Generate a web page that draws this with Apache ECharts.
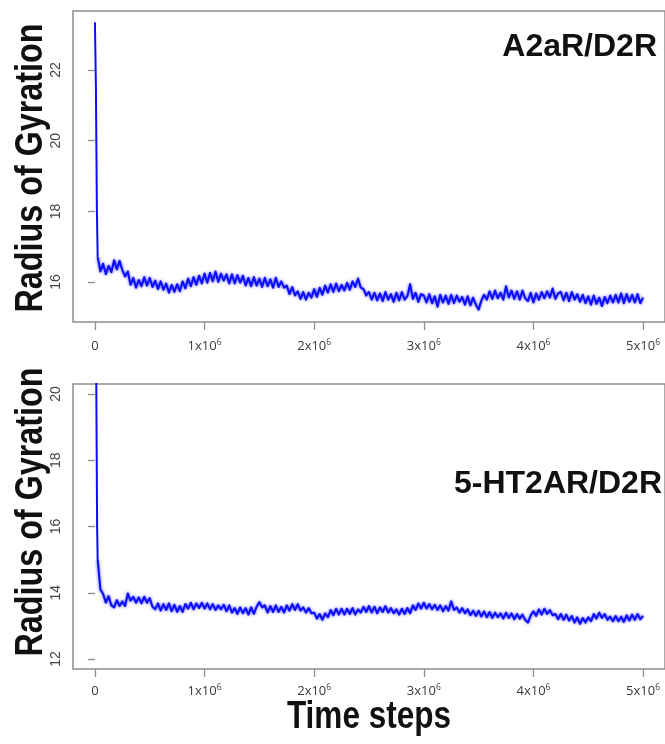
<!DOCTYPE html>
<html>
<head>
<meta charset="utf-8">
<script src="https://cdn.jsdelivr.net/npm/echarts@6/dist/echarts.min.js"></script>
<style>html,body{margin:0;padding:0;background:#fff;}#c{width:665px;height:744px;}</style>
</head>
<body>
<div id="c"></div>
<script>
// ---- data ----
const xTicks = [0, 1000000, 2000000, 3000000, 4000000, 5000000];
const yTicksTop = [16, 18, 20, 22];
const yTicksBottom = [12, 14, 16, 18, 20];
const panelTop = 'A2aR/D2R';
const panelBottom = '5-HT2AR/D2R';
const yTitle = 'Radius of Gyration';
const xTitle = 'Time steps';

// initial fast collapse
const topEarlySteps = [0, 9000, 18000];
const topEarlyRg = [23.35, 21.5, 18.0];
const botEarlySteps = [0, 12000, 20000];
const botEarlyRg = [24.0, 20.5, 16.0];

// regular samples every 25000 steps, from 25000 to 5000000
const sampleStep = 25000;
const topRg = [
 16.72,16.30,16.52,16.22,16.46,16.28,16.62,16.36,16.60,
 16.34,16.16,16.30,15.92,16.12,15.84,16.06,15.88,16.14,15.90,
 16.12,15.86,16.04,15.80,16.02,15.78,15.96,15.70,15.92,15.72,
 15.94,15.74,16.02,15.82,16.10,15.88,16.14,15.92,16.18,15.96,
 16.24,15.98,16.26,16.02,16.30,16.00,16.24,16.04,16.22,15.96,
 16.22,15.96,16.20,15.98,16.18,15.90,16.12,15.88,16.14,15.90,
 16.10,15.86,16.12,15.88,16.08,15.84,16.12,15.86,16.02,15.84,
 15.90,15.66,15.86,15.62,15.74,15.52,15.72,15.50,15.70,15.56,
 15.80,15.58,15.84,15.64,15.90,15.70,15.94,15.72,15.96,15.74,
 15.92,15.76,15.98,15.78,16.02,15.86,16.10,15.84,15.80,15.62,
 15.72,15.50,15.70,15.48,15.68,15.46,15.72,15.50,15.66,15.44,
 15.70,15.48,15.72,15.50,15.60,15.94,15.52,15.70,15.44,15.66,
 15.62,15.42,15.66,15.40,15.60,15.30,15.64,15.42,15.62,15.38,
 15.64,15.40,15.62,15.44,15.58,15.36,15.60,15.34,15.56,15.36,
 15.22,15.48,15.64,15.50,15.74,15.52,15.76,15.54,15.70,15.50,
 15.88,15.56,15.76,15.52,15.74,15.50,15.76,15.54,15.46,15.70,
 15.42,15.68,15.50,15.72,15.54,15.74,15.56,15.82,15.52,15.68,
 15.72,15.48,15.70,15.46,15.72,15.50,15.66,15.44,15.64,15.40,
 15.60,15.36,15.62,15.38,15.56,15.32,15.58,15.40,15.62,15.42,
 15.64,15.42,15.68,15.40,15.66,15.44,15.64,15.42,15.66,15.40,15.56
];
const bottomRg = [
 15.00,14.10,13.96,13.70,13.90,13.62,13.56,13.78,13.60,
 13.74,13.60,13.98,13.76,13.88,13.70,13.86,13.68,13.88,13.70,
 13.84,13.58,13.50,13.68,13.46,13.66,13.48,13.68,13.44,13.64,
 13.42,13.60,13.42,13.66,13.52,13.70,13.50,13.68,13.54,13.70,
 13.52,13.68,13.50,13.66,13.48,13.62,13.50,13.64,13.44,13.62,
 13.40,13.54,13.36,13.56,13.38,13.54,13.34,13.56,13.36,13.58,
 13.72,13.56,13.62,13.40,13.60,13.42,13.62,13.42,13.58,13.40,
 13.62,13.46,13.66,13.48,13.66,13.46,13.56,13.40,13.54,13.38,
 13.40,13.22,13.36,13.18,13.38,13.26,13.48,13.32,13.52,13.34,
 13.52,13.34,13.52,13.36,13.54,13.34,13.50,13.40,13.58,13.42,
 13.60,13.40,13.58,13.38,13.56,13.42,13.60,13.40,13.54,13.38,
 13.50,13.34,13.52,13.36,13.54,13.38,13.62,13.48,13.68,13.52,
 13.70,13.52,13.66,13.50,13.64,13.48,13.62,13.44,13.60,13.46,
 13.74,13.48,13.56,13.40,13.54,13.38,13.50,13.32,13.46,13.30,
 13.46,13.28,13.44,13.26,13.42,13.24,13.40,13.26,13.38,13.22,
 13.40,13.24,13.38,13.20,13.36,13.22,13.34,13.18,13.10,13.32,
 13.44,13.30,13.50,13.34,13.52,13.36,13.48,13.32,13.36,13.20,
 13.36,13.18,13.34,13.16,13.30,13.10,13.26,13.06,13.24,13.10,
 13.26,13.14,13.36,13.22,13.40,13.24,13.36,13.18,13.28,13.14,
 13.30,13.14,13.28,13.12,13.32,13.16,13.34,13.18,13.36,13.20,13.30
];

function earlyPart(earlySteps, earlyVals, vals) {
  const out = earlySteps.map((s, i) => [s, earlyVals[i]]);
  out.push([sampleStep, vals[0]]);
  return out;
}
function mainPart(vals) {
  return vals.map((v, i) => [(i + 1) * sampleStep, v]);
}

const boxColor = '#8e8e8e';
const lineColor = '#0c0cff';

function xAxisCfg(gridIndex, margin) {
  return {
    type: 'value', gridIndex: gridIndex, min: -200000, max: 5200000,
    axisLine: {show: false},
    splitLine: {show: false},
    axisTick: {show: true, customValues: xTicks, length: 8, inside: false,
      lineStyle: {color: boxColor, width: 1.3}},
    axisLabel: {show: true, customValues: xTicks, margin: margin,
      formatter: function (v) {
        if (v === 0) return '{n|0}';
        return '{n|' + Math.round(v / 1000000) + 'x10}{s|6}';
      },
      rich: {
        n: {fontFamily: 'Open Sans', fontSize: 13, color: '#3a3a3a', lineHeight: 16},
        s: {fontFamily: 'Open Sans', fontSize: 8.5, color: '#3a3a3a', lineHeight: 10, verticalAlign: 'top'}
      }
    }
  };
}
function yAxisCfg(gridIndex, min, max, ticks) {
  return {
    type: 'value', gridIndex: gridIndex, min: min, max: max,
    axisLine: {show: false},
    splitLine: {show: false},
    axisTick: {show: true, customValues: ticks, length: 7,
      lineStyle: {color: boxColor, width: 1.3}},
    axisLabel: {show: true, customValues: ticks, rotate: 90, margin: 10,
      fontFamily: 'Liberation Sans', fontSize: 14, color: '#444'}
  };
}

const titleFont = 'bold 38px "Liberation Sans", Arial, sans-serif';
const bandStyle = {color: lineColor, width: 2, join: 'round',
  shadowColor: 'rgba(20,20,255,0.8)', shadowBlur: 3};

const chart = echarts.init(document.getElementById('c'), null, {renderer: 'canvas'});
chart.setOption({
  animation: false,
  backgroundColor: '#fff',
  grid: [
    {left: 73, top: 11, width: 594, height: 311, show: true, borderColor: boxColor, borderWidth: 1.5, backgroundColor: 'transparent'},
    {left: 73, top: 384, width: 594, height: 285, show: true, borderColor: boxColor, borderWidth: 1.5, backgroundColor: 'transparent'}
  ],
  xAxis: [xAxisCfg(0, 16), xAxisCfg(1, 14)],
  yAxis: [yAxisCfg(0, 14.87, 23.67, yTicksTop), yAxisCfg(1, 11.70, 20.30, yTicksBottom)],
  series: [
    {type: 'line', xAxisIndex: 0, yAxisIndex: 0, data: earlyPart(topEarlySteps, topEarlyRg, topRg),
      showSymbol: false, symbol: 'none', clip: true, lineStyle: {color: lineColor, width: 2}},
    {type: 'line', xAxisIndex: 0, yAxisIndex: 0, data: mainPart(topRg),
      showSymbol: false, symbol: 'none', clip: true, lineStyle: bandStyle},
    {type: 'line', xAxisIndex: 1, yAxisIndex: 1, data: earlyPart(botEarlySteps, botEarlyRg, bottomRg),
      showSymbol: false, symbol: 'none', clip: true, lineStyle: {color: lineColor, width: 2}},
    {type: 'line', xAxisIndex: 1, yAxisIndex: 1, data: mainPart(bottomRg),
      showSymbol: false, symbol: 'none', clip: true, lineStyle: bandStyle}
  ],
  graphic: [
    {type: 'text', x: 657, y: 47, style: {text: panelTop, font: 'bold 32px "Liberation Sans", Arial, sans-serif',
      fill: '#111', align: 'right', verticalAlign: 'middle'}},
    {type: 'text', x: 662, y: 484, style: {text: panelBottom, font: 'bold 32px "Liberation Sans", Arial, sans-serif',
      fill: '#111', align: 'right', verticalAlign: 'middle'}},
    {type: 'text', x: 32, y: 168, rotation: Math.PI / 2, scaleX: 0.85, style: {text: yTitle,
      font: titleFont, fill: '#111', align: 'center', verticalAlign: 'middle'}},
    {type: 'text', x: 32, y: 512, rotation: Math.PI / 2, scaleX: 0.85, style: {text: yTitle,
      font: titleFont, fill: '#111', align: 'center', verticalAlign: 'middle'}},
    {type: 'text', x: 369, y: 718, scaleX: 0.83, style: {text: xTitle,
      font: titleFont, fill: '#111', align: 'center', verticalAlign: 'middle'}}
  ]
});
</script>
</body>
</html>
